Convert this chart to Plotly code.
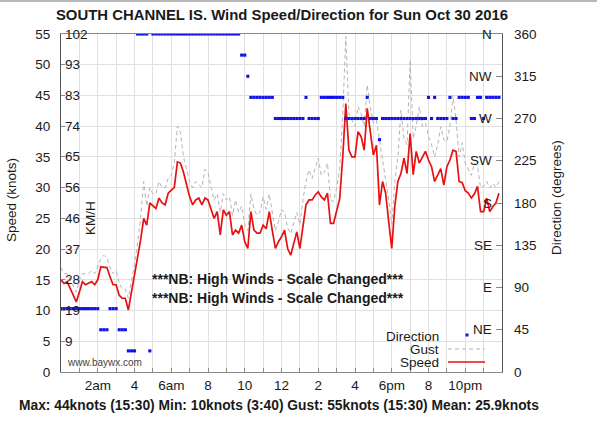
import plotly.graph_objects as go

# ---------------- data (10-minute readings, hours after midnight) ----------------
speed_knots = [
    15.0, 14.4, 14.7, 13.5, 12.5, 11.4,
    13.0, 14.7, 14.2, 14.5, 14.7, 14.2,
    15.0, 17.1, 17.1, 17.0, 15.5, 14.2,
    14.2, 12.5, 12.0, 12.0, 10.1, 13.0,
    15.5, 18.5, 21.5, 25.0, 23.9, 27.5,
    27.0, 26.6, 28.3, 27.5, 27.2, 29.1,
    29.6, 30.0, 34.2, 34.0, 32.5, 30.7,
    28.5, 27.2, 28.0, 28.3, 27.2, 28.3,
    28.0, 26.5, 25.0, 26.1, 22.3, 26.4,
    25.5, 26.1, 22.3, 23.1, 22.6, 23.9,
    21.2, 20.1, 26.1, 23.1, 22.6, 22.6,
    23.9, 23.3, 26.1, 23.0, 20.1, 21.2,
    22.0, 23.1, 20.1, 19.0, 21.0, 22.8,
    20.1, 24.0, 27.2, 28.0, 28.0, 28.8,
    29.3, 28.5, 28.0, 29.1, 24.2, 24.2,
    26.0, 28.2, 35.0, 43.7, 36.1, 35.0,
    35.0, 39.1, 38.3, 36.1, 42.9, 39.4,
    35.3, 36.9, 27.2, 31.0, 29.1, 24.5,
    20.1, 27.0, 31.0, 32.3, 34.8, 32.3,
    38.8, 32.1, 35.9, 34.0, 35.0, 35.9,
    34.5, 33.4, 31.0, 32.0, 33.1, 30.4,
    33.4, 34.5, 36.1, 35.9, 31.0, 30.8,
    29.5, 29.1, 28.3, 29.0, 30.2, 26.1,
    26.1, 28.3, 26.1, 26.9, 27.5, 29.1,
]

gust_knots = [
    17.0, 16.0, 16.0, 15.0, 14.0, 13.0,
    15.0, 16.0, 16.0, 16.0, 16.5, 16.0,
    17.0, 18.5, 19.0, 18.5, 17.0, 16.0,
    16.5, 14.5, 13.5, 13.5, 12.0, 14.5,
    17.5, 21.0, 25.0, 31.0, 27.0, 30.0,
    29.0, 29.0, 31.0, 30.0, 30.0, 31.5,
    32.0, 34.0, 40.0, 39.0, 35.0, 33.0,
    31.0, 30.0, 31.0, 30.5, 30.0, 33.0,
    32.5, 30.0, 28.0, 29.0, 26.0, 29.0,
    28.0, 28.5, 25.5, 28.0, 26.0, 27.0,
    24.0, 23.0, 29.0, 26.5, 25.5, 26.0,
    28.5, 26.5, 29.0, 26.0, 23.0, 24.5,
    26.4, 26.0, 23.5, 22.5, 24.5, 26.0,
    24.0, 28.0, 31.0, 32.9, 31.5, 33.0,
    34.8, 32.0, 32.5, 34.0, 28.0, 27.7,
    30.0, 33.0, 42.0, 54.6, 42.0, 41.0,
    40.0, 43.2, 42.0, 40.0, 46.7, 43.0,
    40.5, 41.0, 37.8, 34.0, 31.2, 28.0,
    24.0, 31.0, 35.0, 42.6, 38.0, 37.0,
    50.8, 38.0, 40.0, 43.2, 40.0, 40.5,
    38.3, 37.0, 35.0, 37.0, 39.9, 37.8,
    37.5, 40.0, 45.0, 41.0, 35.0, 37.3,
    34.0, 33.0, 32.0, 34.0, 33.5, 30.0,
    30.2, 31.0, 30.0, 30.7, 30.0, 31.0,
]

direction_deg = [
    67.5, 67.5, 67.5, 67.5, 67.5, 67.5,
    67.5, 67.5, 67.5, 67.5, 67.5, 67.5,
    67.5, 45, 45, 45, 67.5, 67.5,
    67.5, 45, 45, 45, 22.5, 22.5,
    22.5, 360, 360, 360, 360, 22.5,
    360, 360, 360, 360, 360, 360,
    360, 360, 360, 360, 360, 360,
    360, 360, 360, 360, 360, 360,
    360, 360, 360, 360, 360, 360,
    360, 360, 360, 360, 360, 337.5,
    337.5, 315, 292.5, 292.5, 292.5, 292.5,
    292.5, 292.5, 292.5, 292.5, 270, 270,
    270, 270, 270, 270, 270, 270,
    270, 270, 292.5, 270, 270, 270,
    270, 292.5, 292.5, 292.5, 292.5, 292.5,
    292.5, 292.5, 292.5, 270, 270, 270,
    270, 270, 270, 270, 292.5, 270,
    270, 270, 247.5, 270, 270, 270,
    270, 270, 270, 270, 270, 270,
    270, 270, 270, 270, 270, 270,
    292.5, 270, 292.5, 270, 270, 270,
    270, 292.5, 270, 270, 292.5, 292.5,
    292.5, 292.5, 270, 270, 292.5, 292.5,
    270, 292.5, 292.5, 292.5, 292.5, 292.5,
]

hours = [i / 6 for i in range(len(speed_knots))]

hour_ticks = list(range(1, 24))
hour_labels = ["", "2am", "", "4", "", "6am", "", "8", "", "10", "", "12",
               "", "2", "", "4", "", "6pm", "", "8", "", "10pm", ""]

speed_ticks = list(range(0, 56, 5))
kmh_ticks = list(range(5, 56, 5))
kmh_labels = ["9", "19", "28", "37", "46", "56", "65", "74", "83", "93", "102"]
deg_ticks = list(range(0, 361, 45))
deg_labels = [str(v) for v in deg_ticks]
compass_ticks = list(range(45, 361, 45))
compass_labels = ["NE", "E", "SE", "S", "SW", "W", "NW", "N"]

title_text = "SOUTH CHANNEL IS. Wind Speed/Direction for Sun Oct 30 2016"
summary_text = "Max: 44knots (15:30) Min: 10knots (3:40) Gust: 55knots (15:30) Mean: 25.9knots"
note_text = "***NB: High Winds - Scale Changed***"

# ---------------- figure ----------------
W, H = 597, 437
L, R, T, B = 61, 95, 34, 65
PW, PH = W - L - R, H - T - B

def px(x):
    return (x - L) / PW

def py(y):
    return (H - B - y) / PH

FONT = "Liberation Sans, Arial, sans-serif"
TXT = "#1a1a1a"
GRID = "#e0e0e0"
AX = "#8a8a8a"

fig = go.Figure()

fig.add_trace(go.Scatter(
    x=hours, y=gust_knots, mode="lines", name="Gust",
    line=dict(color="#b4b4b4", width=1, dash="4px,3px"),
    showlegend=False, yaxis="y"))
fig.add_trace(go.Scatter(
    x=hours, y=speed_knots, mode="lines", name="Speed",
    line=dict(color="#e81010", width=1.7),
    showlegend=False, yaxis="y"))
fig.add_trace(go.Scatter(
    x=hours, y=direction_deg, mode="markers", name="Direction",
    marker=dict(color="#1010e8", size=3.1, symbol="square", line=dict(width=0)),
    showlegend=False, yaxis="y2"))

tickfont = dict(family=FONT, size=13.5, color=TXT)

fig.update_layout(
    width=W, height=H,
    margin=dict(l=L, r=R, t=T, b=B, autoexpand=False),
    paper_bgcolor="white", plot_bgcolor="white",
    font=dict(family=FONT, color=TXT),
    title=dict(text="<b>" + title_text + "</b>", x=(L + PW / 2 + 0.5) / W, xanchor="center",
               y=1 - 15 / H, yanchor="middle", yref="container",
               font=dict(family=FONT, size=14.9, color=TXT)),
    xaxis=dict(range=[0, 24], tickvals=hour_ticks, ticktext=hour_labels,
               showgrid=True, gridcolor=GRID, gridwidth=1, zeroline=False,
               showline=True, linecolor=AX, linewidth=1, mirror=True,
               ticks="inside", ticklen=4, tickcolor=AX, automargin=False,
               tickfont=tickfont, ticklabelstandoff=1),
    yaxis=dict(range=[0, 55], tickvals=speed_ticks,
               showgrid=True, gridcolor=GRID, gridwidth=1, zeroline=False,
               showline=True, linecolor="#555555", linewidth=1, mirror=True,
               ticks="inside", ticklen=4, tickcolor=AX, automargin=False,
               tickfont=tickfont, ticklabelstandoff=7),
    yaxis2=dict(range=[0, 360], overlaying="y", side="right", anchor="x",
                tickvals=deg_ticks, ticktext=deg_labels,
                showgrid=False, zeroline=False, showline=False, automargin=False,
                ticks="inside", ticklen=6, tickcolor=AX,
                tickfont=tickfont, ticklabelstandoff=11),
)

annotations = [
    dict(text="Speed (knots)", x=px(12), y=py(200), textangle=-90,
         font=dict(family=FONT, size=13.5, color=TXT)),
    dict(text="KM/H", x=px(90), y=py(218), textangle=-90,
         font=dict(family=FONT, size=13.5, color=TXT)),
    dict(text="Direction (degrees)", x=px(556), y=py(198), textangle=-90,
         font=dict(family=FONT, size=13.5, color=TXT)),
    dict(text="<b>" + note_text + "</b>", x=px(277.5), y=py(279),
         font=dict(family=FONT, size=14, color=TXT)),
    dict(text="<b>" + note_text + "</b>", x=px(277.5), y=py(298),
         font=dict(family=FONT, size=14, color=TXT)),
    dict(text="www.baywx.com", x=px(65), y=py(362), xanchor="left",
         font=dict(family=FONT, size=10, color="#444444")),
    dict(text="<b>" + summary_text + "</b>", x=px(279), y=py(405),
         font=dict(family=FONT, size=13.8, color=TXT)),
    dict(text="Direction", x=px(441), y=py(336), xanchor="right",
         font=dict(family=FONT, size=13.5, color=TXT)),
    dict(text="Gust", x=px(441), y=py(349), xanchor="right",
         font=dict(family=FONT, size=13.5, color=TXT)),
    dict(text="Speed", x=px(441), y=py(362), xanchor="right",
         font=dict(family=FONT, size=13.5, color=TXT)),
]
# inner KM/H scale (left, on the speed axis)
for v, lab in zip(kmh_ticks, kmh_labels):
    annotations.append(dict(text=lab, x=px(63), xanchor="left", y=v, yref="y",
                            font=dict(family=FONT, size=13.5, color=TXT)))
# inner compass scale (right, on the direction axis)
for v, lab in zip(compass_ticks, compass_labels):
    annotations.append(dict(text=lab, x=px(494), xanchor="right", y=v, yref="y2",
                            font=dict(family=FONT, size=13.5, color=TXT)))

for a in annotations:
    a.setdefault("xref", "paper")
    a.setdefault("yref", "paper")
    a.setdefault("xanchor", "center")
    a.setdefault("yanchor", "middle")
    a.setdefault("showarrow", False)
fig.update_layout(annotations=annotations)

shapes = [
    # legend background
    dict(type="rect", xref="paper", yref="paper", x0=px(368), x1=px(500.5),
         y0=py(370.5), y1=py(327), fillcolor="white", line=dict(width=0), layer="between"),
    dict(type="line", xref="paper", yref="paper", x0=px(448), x1=px(485),
         y0=py(349), y1=py(349), line=dict(color="#b4b4b4", width=1, dash="4px,3px")),
    dict(type="line", xref="paper", yref="paper", x0=px(448), x1=px(485),
         y0=py(362), y1=py(362), line=dict(color="#e81010", width=1.7)),
    dict(type="rect", xref="paper", yref="paper", x0=px(465.5), x1=px(468.5),
         y0=py(336.5), y1=py(333.5), fillcolor="#1010e8", line=dict(width=0)),
    # top border of the image
    dict(type="line", xref="paper", yref="paper", x0=px(0), x1=px(W),
         y0=py(1), y1=py(1), line=dict(color="#b8b8b8", width=2)),
]
fig.update_layout(shapes=shapes)

fig.write_html("out.html",
               config={"displayModeBar": False},
               post_script="document.body.style.margin='0';document.body.style.overflow='hidden';")
